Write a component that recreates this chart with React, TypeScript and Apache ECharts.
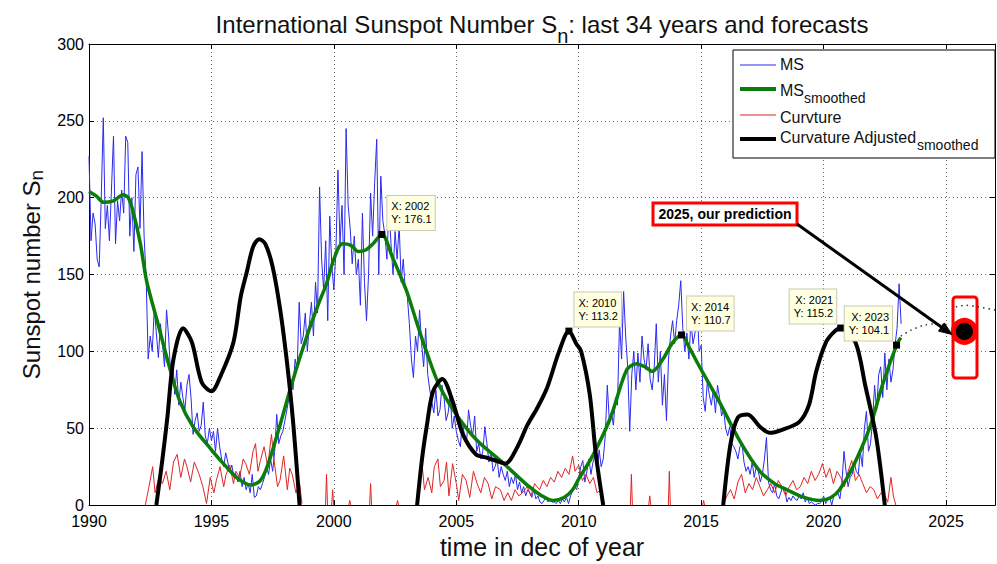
import React, { useEffect, useRef } from "react";
import * as echarts from "echarts";

const FONT = "'Liberation Sans', Arial, Helvetica, sans-serif";

// axis extents
const xMin = 1990;
const xMax = 2027;
const xStep = 5;
const yMin = 0;
const yMax = 300;
const yStep = 50;

// Monthly sunspot number (MS), one row per year starting 1990
const msStartYear = 1990;
const msMonthly: number[][] = [
  [227, 172, 190, 183, 160, 155, 200, 252, 180, 195, 172, 205], // 1990
  [240, 170, 198, 185, 205, 190, 240, 236, 175, 200, 165, 215], // 1991
  [220, 180, 230, 175, 148, 95, 110, 100, 128, 112, 96, 118], // 1992
  [105, 90, 127, 110, 85, 95, 72, 88, 65, 80, 70, 62], // 1993
  [78, 85, 70, 46, 55, 60, 48, 52, 67, 45, 40, 50], // 1994
  [42, 48, 35, 50, 38, 30, 25, 34, 28, 22, 26, 18], // 1995
  [20, 15, 22, 12, 18, 10, 14, 8, 20, 5, 6, 12], // 1996
  [10, 14, 18, 25, 20, 30, 22, 35, 59, 40, 45, 48], // 1997
  [55, 62, 70, 80, 75, 95, 88, 132, 105, 110, 125, 100], // 1998
  [118, 132, 110, 145, 125, 207, 160, 140, 172, 120, 188, 155], // 1999
  [140, 165, 218, 170, 195, 150, 245, 195, 180, 157, 175, 150], // 2000
  [160, 130, 190, 145, 120, 150, 203, 175, 210, 238, 150, 214], // 2001
  [185, 176, 160, 195, 170, 150, 178, 160, 182, 145, 160, 140], // 2002
  [136, 118, 95, 83, 110, 100, 127, 105, 90, 115, 85, 75], // 2003
  [67, 60, 75, 58, 62, 78, 70, 55, 60, 72, 50, 58], // 2004
  [48, 42, 38, 55, 45, 40, 62, 52, 45, 58, 35, 40], // 2005
  [30, 35, 51, 40, 28, 35, 22, 25, 30, 18, 25, 20], // 2006
  [16, 22, 12, 18, 14, 20, 10, 15, 8, 12, 6, 10], // 2007
  [8, 5, 10, 4, 6, 2, 1, 3, 5, 2, 4, 2], // 2008
  [2, 1, 3, 1, 4, 2, 5, 1, 6, 9, 12, 10], // 2009
  [18, 25, 29, 15, 22, 30, 20, 28, 32, 22, 36, 25], // 2010
  [30, 45, 78, 55, 60, 52, 70, 65, 120, 95, 139, 110], // 2011
  [90, 48, 85, 100, 75, 99, 80, 110, 95, 88, 105, 82], // 2012
  [75, 90, 118, 80, 100, 65, 85, 55, 95, 110, 120, 105], // 2013
  [120, 130, 146, 115, 100, 112, 95, 120, 105, 112, 130, 100], // 2014
  [104, 70, 61, 80, 72, 65, 75, 60, 78, 70, 58, 62], // 2015
  [50, 45, 51, 40, 38, 35, 30, 38, 40, 28, 22, 25], // 2016
  [20, 28, 18, 25, 22, 15, 20, 30, 44, 15, 10, 8], // 2017
  [14, 6, 4, 8, 12, 10, 2, 5, 3, 6, 4, 3], // 2018
  [6, 4, 8, 2, 5, 1, 2, 1, 0, 1, 1, 2], // 2019
  [6, 1, 3, 5, 0, 6, 8, 8, 4, 15, 35, 22], // 2020
  [12, 18, 20, 28, 22, 20, 35, 25, 50, 61, 35, 40], // 2021
  [55, 78, 62, 85, 90, 70, 99, 75, 95, 80, 88, 104], // 2022
  [115, 144, 118], // 2023
];

// MS smoothed (green)
const smoothX = [
  1990.0, 1990.3, 1990.6, 1991.0, 1991.4, 1991.6, 1991.8, 1992.1, 1992.35, 1992.8,
  1993.3, 1993.7, 1994.25, 1995.0, 1995.6, 1996.1, 1996.6, 1997.0, 1997.3, 1997.8,
  1998.3, 1998.9, 1999.4, 1999.7, 2000.0, 2000.35, 2000.7, 2001.0, 2001.3, 2001.6,
  2001.96, 2002.4, 2002.8, 2003.0, 2003.4, 2003.8, 2004.3, 2005.0, 2005.85, 2006.8,
  2007.9, 2008.5, 2008.95, 2009.4, 2009.75, 2010.0, 2010.6, 2011.3, 2011.96, 2012.36,
  2012.7, 2013.0, 2013.44, 2013.85, 2014.2, 2014.5, 2014.9, 2015.75, 2016.57, 2017.4,
  2018.0, 2018.5, 2019.2, 2019.84, 2020.3, 2020.65, 2021.2, 2021.9, 2022.4, 2022.98,
  2023.15,
];
const smoothY = [
  204, 201, 197, 198, 202, 200, 191, 170, 146, 119,
  89, 68, 51, 36, 25, 17, 13, 16, 26, 52,
  80, 110, 132, 144, 160, 170, 169, 165, 166, 170,
  176.1, 161, 146, 138, 118, 99, 78, 59, 42, 29,
  13, 6, 3, 5, 10, 17, 33, 57, 88, 92,
  90, 87, 95, 106, 110.7, 103, 91, 67, 42, 22,
  14, 10, 5, 3, 5, 10, 25, 51, 78, 104.1,
  109,
];

// Curvature adjusted smoothed (black), null = gap
const curvAdjX = [
  1992.75, 1993.0, 1993.2, 1993.45, 1993.84, 1994.2, 1994.6, 1995.0, 1995.4, 1995.9,
  1996.2, 1996.45, 1996.7, 1996.95, 1997.2, 1997.5, 1997.8, 1998.07, 1998.33, 1998.6,
  2001.0,
  2003.4, 2003.6, 2003.8, 2004.05, 2004.43, 2004.86, 2005.27, 2005.8, 2006.2, 2006.6,
  2007.0, 2007.5, 2007.9, 2008.3, 2008.7, 2009.2, 2009.6, 2009.9, 2010.1, 2010.45,
  2010.7, 2011.0,
  2013.0,
  2015.9, 2016.2, 2016.5, 2016.9, 2017.4, 2017.8, 2018.3, 2019.0, 2019.4, 2019.7,
  2020.1, 2020.45, 2020.7, 2021.3, 2021.7, 2022.15, 2022.5,
];
const curvAdjY: (number | null)[] = [
  0, 30, 57, 95, 115, 106, 80, 74, 85, 106,
  136, 152, 168, 173, 170, 155, 128, 95, 55, 0,
  null,
  0, 30, 52, 74, 82, 67, 46, 33, 31, 29,
  27, 38, 52, 63, 76, 100, 113.2, 105, 100, 72,
  33, 0,
  null,
  0, 40, 57, 59, 51, 47, 49, 54, 65, 87,
  106, 113, 115.2, 106, 78, 44, 0,
];

// Curvture (red), null = gap
const curvX = [
  1992.3, 1992.45, 1992.6, 1992.7, 1992.85, 1993.0, 1993.15, 1993.3, 1993.45, 1993.6,
  1993.75, 1993.9, 1994.0, 1994.15, 1994.3, 1994.5, 1994.65, 1994.8, 1994.95, 1995.1,
  1995.2, 1995.35, 1995.5, 1995.6, 1995.75, 1995.9, 1996.0, 1996.15, 1996.3, 1996.4,
  1996.55, 1996.7, 1996.8, 1996.9, 1997.0, 1997.15, 1997.3, 1997.45, 1997.55, 1997.7,
  1997.8, 1997.95, 1998.1, 1998.2, 1998.3, 1998.45, 1998.6, 1998.7,
  1999.2,
  1999.66, 1999.7, 1999.74, 1999.8,
  1999.91, 1999.95, 1999.99, 2000.3,
  2000.61, 2000.65, 2000.69, 2001.0,
  2001.46, 2001.5, 2001.54, 2002.0,
  2002.56, 2002.6, 2002.64, 2003.0,
  2003.4, 2003.5, 2003.6, 2003.7, 2003.85, 2004.0, 2004.1, 2004.25, 2004.35, 2004.5,
  2004.6, 2004.7, 2004.85, 2005.0, 2005.1, 2005.25, 2005.4, 2005.55, 2005.7, 2005.85,
  2006.0, 2006.15, 2006.3, 2006.45, 2006.6, 2006.8, 2006.95, 2007.1, 2007.25, 2007.4,
  2007.55, 2007.7, 2007.9, 2008.05, 2008.2, 2008.4, 2008.55, 2008.7, 2008.85, 2009.0,
  2009.15, 2009.3, 2009.45, 2009.6, 2009.75, 2009.85, 2010.0, 2010.15, 2010.3, 2010.45,
  2010.6, 2010.75, 2010.9, 2011.0,
  2011.5,
  2012.11, 2012.15, 2012.19, 2012.5,
  2012.86, 2012.9, 2012.94, 2013.3,
  2013.66, 2013.7, 2013.74, 2014.5,
  2015.06, 2015.1, 2015.14, 2015.5,
  2015.9, 2016.05, 2016.2, 2016.35, 2016.5, 2016.65, 2016.8, 2016.95, 2017.1, 2017.25,
  2017.4, 2017.55, 2017.7, 2017.85, 2018.0, 2018.15, 2018.3, 2018.45, 2018.6, 2018.75,
  2018.9, 2019.05, 2019.2, 2019.35, 2019.5, 2019.65, 2019.8, 2019.95, 2020.1, 2020.25,
  2020.4, 2020.55, 2020.7, 2020.85, 2021.0, 2021.15, 2021.3, 2021.45, 2021.6, 2021.75,
  2021.9, 2022.05, 2022.2, 2022.35, 2022.5, 2022.62, 2022.75, 2022.85, 2022.95,
];
const curvY: (number | null)[] = [
  0, 12, 25, 8, 18, 14, 22, 10, 28, 33,
  18, 30, 25, 15, 28, 20, 12, 1, 18, 8,
  16, 25, 12, 20, 26, 14, 22, 18, 30, 27,
  20, 35, 40, 22, 29, 38, 25, 46, 30, 12,
  16, 32, 10, 24, 20, 8, 14, 1,
  null,
  0, 20, 0, null,
  0, 10, 0, null,
  0, 3, 0, null,
  0, 14, 0, null,
  0, 3, 0, null,
  0, 15, 27, 10, 18, 8, 25, 30, 12, 16,
  28, 6, 27, 14, 3, 20, 16, 5, 22, 14,
  8, 18, 14, 4, 12, 10, 3, 8, 3, 10,
  6, 8, 12, 6, 14, 10, 16, 12, 18, 15,
  22, 18, 24, 20, 32, 22, 26, 16, 20, 14,
  18, 8, 10, 0,
  null,
  0, 20, 0, null,
  0, 6, 0, null,
  0, 22, 0, null,
  0, 3, 0, null,
  0, 6, 10, 4, 15, 20, 8, 14, 10, 18,
  12, 6, 10, 14, 8, 16, 12, 6, 12, 16,
  10, 12, 18, 14, 22, 16, 20, 27, 18, 24,
  14, 22, 18, 12, 22, 29, 16, 20, 14, 8,
  12, 10, 4, 8, 6, 2, 18, 6, 0,
];

// dotted forecast curves
const forecastNearX = [2023.15, 2023.6, 2024.1, 2024.6, 2025.0];
const forecastNearY = [110, 114, 117, 118, 117];
const forecastFarX = [2025.4, 2025.8, 2026.3, 2027.0];
const forecastFarY = [129, 130, 129, 127];

// data tips
const tipX = [2001.96, 2009.6, 2014.2, 2020.7, 2022.98];
const tipY = [176.1, 113.2, 110.7, 115.2, 104.1];
const tipYearLabel = ["2002", "2010", "2014", "2021", "2023"];
const tipSide = ["right", "right", "right", "left", "left"];

// 2025 prediction
const predictionX = [2025.75];
const predictionY = [113];

const pairs = (xs: number[], ys: (number | null)[]) =>
  xs.map((x, i) => [x, ys[i] === null ? "-" : ys[i]]);

export default function App() {
  const ref = useRef<HTMLDivElement>(null);

  useEffect(() => {
    document.body.style.margin = "0";
    if (!ref.current) return;
    const chart = echarts.init(ref.current, undefined, { renderer: "svg" });

    const msData: number[][] = [];
    msMonthly.forEach((row, yi) =>
      row.forEach((v, m) => msData.push([msStartYear + yi + m / 12, v]))
    );

    const axisCommon = {
      axisLine: { show: true, onZero: false, lineStyle: { color: "#000", width: 1 } },
      axisTick: { show: true, inside: true, length: 5, lineStyle: { color: "#000" } },
    };
    const gridDots = { show: true, lineStyle: { color: "#6a6a6a", type: [1, 3], width: 1 } };

    const legendX1 = 740;
    const legendX2 = 776;
    const legendTextX = 780;

    const option: any = {
      animation: false,
      backgroundColor: "#fff",
      title: {
        text: "{a|International Sunspot Number S}{sub|n}{a|: last 34 years and forecasts}",
        left: 542,
        top: 2,
        padding: 0,
        textAlign: "center",
        textStyle: {
          fontFamily: FONT,
          fontWeight: "normal",
          fontSize: 24,
          rich: {
            a: { fontFamily: FONT, fontSize: 24, color: "#111", lineHeight: 44 },
            sub: { fontFamily: FONT, fontSize: 20, color: "#111", lineHeight: 20, verticalAlign: "bottom" },
          },
        },
      },
      grid: { left: 89, right: 2, top: 44, bottom: 52 },
      xAxis: [
        {
          type: "value",
          min: xMin,
          max: xMax,
          interval: xStep,
          position: "bottom",
          name: "time in dec of year",
          nameLocation: "middle",
          nameGap: 19,
          nameTextStyle: { fontFamily: FONT, fontSize: 25, color: "#111" },
          ...axisCommon,
          axisLabel: {
            color: "#000",
            fontFamily: FONT,
            fontSize: 16,
            lineHeight: 16,
            margin: 8,
            showMaxLabel: false,
            formatter: (v: number) => String(v),
          },
          splitLine: gridDots,
        },
        {
          type: "value",
          min: xMin,
          max: xMax,
          interval: xStep,
          position: "top",
          ...axisCommon,
          axisLabel: { show: false },
          splitLine: { show: false },
        },
      ],
      yAxis: [
        {
          type: "value",
          min: yMin,
          max: yMax,
          interval: yStep,
          position: "left",
          name: "{a|Sunspot number S}{sub|n}",
          nameLocation: "middle",
          nameGap: 43,
          nameTextStyle: {
            fontFamily: FONT,
            fontSize: 24,
            color: "#111",
            rich: {
              a: { fontFamily: FONT, fontSize: 24, color: "#111", lineHeight: 30 },
              sub: { fontFamily: FONT, fontSize: 19, color: "#111", lineHeight: 16, verticalAlign: "bottom" },
            },
          },
          ...axisCommon,
          axisLabel: { color: "#000", fontFamily: FONT, fontSize: 16, lineHeight: 14, margin: 5 },
          splitLine: gridDots,
        },
        {
          type: "value",
          min: yMin,
          max: yMax,
          interval: yStep,
          position: "right",
          ...axisCommon,
          axisLabel: { show: false },
          splitLine: { show: false },
        },
      ],
      legend: { show: false },
      series: [
        {
          name: "MS",
          type: "line",
          data: msData,
          symbol: "none",
          lineStyle: { color: "#2a2aee", width: 1 },
          z: 2,
          silent: true,
        },
        {
          name: "Curvture",
          type: "line",
          data: pairs(curvX, curvY),
          symbol: "none",
          connectNulls: false,
          lineStyle: { color: "#e02525", width: 1 },
          z: 3,
          silent: true,
        },
        {
          name: "MS smoothed",
          type: "line",
          data: pairs(smoothX, smoothY),
          symbol: "none",
          smooth: 0.3,
          lineStyle: { color: "#0a7d0a", width: 3.5 },
          z: 4,
          silent: true,
        },
        {
          name: "Curvature Adjusted smoothed",
          type: "line",
          data: pairs(curvAdjX, curvAdjY),
          symbol: "none",
          smooth: 0.3,
          connectNulls: false,
          lineStyle: { color: "#000", width: 4 },
          z: 5,
          silent: true,
        },
        {
          name: "forecast near",
          type: "line",
          data: pairs(forecastNearX, forecastNearY),
          symbol: "none",
          smooth: 0.3,
          lineStyle: { color: "#333", width: 1.5, type: [1.5, 4] },
          z: 5,
          silent: true,
        },
        {
          name: "forecast far",
          type: "line",
          data: pairs(forecastFarX, forecastFarY),
          symbol: "none",
          smooth: 0.3,
          lineStyle: { color: "#333", width: 1.5, type: [1.5, 4] },
          z: 5,
          silent: true,
        },
        {
          name: "prediction",
          type: "scatter",
          data: pairs(predictionX, predictionY),
          symbol: "circle",
          symbolSize: 22,
          itemStyle: { color: "#000", borderColor: "#ff0000", borderWidth: 5, opacity: 1 },
          z: 9,
          silent: true,
        },
        {
          name: "datatips",
          type: "scatter",
          symbol: "rect",
          symbolSize: 7,
          itemStyle: { color: "#000", opacity: 1 },
          z: 10,
          silent: true,
          data: tipX.map((x, i) => ({
            value: [x, tipY[i]],
            label: {
              position: tipSide[i] === "right" ? [9, -1] : [-1, -1],
              align: tipSide[i] === "right" ? "left" : "right",
            },
          })),
          label: {
            show: true,
            formatter: (p: any) =>
              `X: ${tipYearLabel[p.dataIndex]}\nY: ${tipY[p.dataIndex].toFixed(1)}`,
            verticalAlign: "bottom",
            backgroundColor: "#ffffe1",
            borderColor: "#c9c9b4",
            borderWidth: 1,
            padding: [4, 3, 4, 4],
            fontFamily: FONT,
            fontSize: 11,
            lineHeight: 13,
            color: "#000",
          },
        },
      ],
      graphic: [
        // legend
        {
          type: "rect",
          z: 100,
          shape: { x: 733, y: 50, width: 262, height: 108 },
          style: { fill: "#fff", stroke: "#000", lineWidth: 1 },
        },
        {
          type: "line",
          z: 101,
          shape: { x1: legendX1, y1: 65, x2: legendX2, y2: 65 },
          style: { stroke: "#2a2aee", lineWidth: 1 },
        },
        {
          type: "text",
          z: 101,
          style: {
            x: legendTextX, y: 64, text: "MS", fontFamily: FONT, fontSize: 16,
            fill: "#111", verticalAlign: "middle", align: "left",
          },
        },
        {
          type: "line",
          z: 101,
          shape: { x1: legendX1, y1: 89, x2: legendX2, y2: 89 },
          style: { stroke: "#0a7d0a", lineWidth: 4 },
        },
        {
          type: "text",
          z: 101,
          style: {
            x: legendTextX, y: 90, text: "{a|MS}{sub|smoothed}", verticalAlign: "middle", align: "left",
            rich: {
              a: { fontFamily: FONT, fontSize: 16, fill: "#111", lineHeight: 30 },
              sub: { fontFamily: FONT, fontSize: 14, fill: "#111", lineHeight: 12, verticalAlign: "bottom" },
            },
          },
        },
        {
          type: "line",
          z: 101,
          shape: { x1: legendX1, y1: 115, x2: legendX2, y2: 115 },
          style: { stroke: "#e02525", lineWidth: 1 },
        },
        {
          type: "text",
          z: 101,
          style: {
            x: legendTextX, y: 117, text: "Curvture", fontFamily: FONT, fontSize: 16,
            fill: "#111", verticalAlign: "middle", align: "left",
          },
        },
        {
          type: "line",
          z: 101,
          shape: { x1: legendX1, y1: 139, x2: legendX2, y2: 139 },
          style: { stroke: "#000", lineWidth: 4 },
        },
        {
          type: "text",
          z: 101,
          style: {
            x: legendTextX, y: 137, text: "{a|Curvature Adjusted}{sub|smoothed}", verticalAlign: "middle", align: "left",
            rich: {
              a: { fontFamily: FONT, fontSize: 16, fill: "#111", lineHeight: 30 },
              sub: { fontFamily: FONT, fontSize: 14, fill: "#111", lineHeight: 12, verticalAlign: "bottom" },
            },
          },
        },
        // prediction callout
        {
          type: "rect",
          z: 50,
          shape: { x: 653, y: 203, width: 144, height: 22 },
          style: { fill: "#fff", stroke: "#ff0000", lineWidth: 3 },
        },
        {
          type: "text",
          z: 51,
          style: {
            x: 725, y: 214, text: "2025, our prediction", fontFamily: FONT, fontSize: 14,
            fontWeight: "bold", fill: "#000", align: "center", verticalAlign: "middle",
          },
        },
        {
          type: "line",
          z: 50,
          shape: { x1: 797, y1: 224, x2: 942, y2: 327.5 },
          style: { stroke: "#000", lineWidth: 3 },
        },
        {
          type: "polygon",
          z: 50,
          shape: { points: [[952, 334.5], [938.5, 331.1], [944.3, 322.9]] },
          style: { fill: "#000", stroke: "#000", lineWidth: 1 },
        },
        {
          type: "rect",
          z: 1,
          shape: { x: 953, y: 297, width: 24, height: 81, r: 3 },
          style: { fill: "none", stroke: "#ff0000", lineWidth: 3 },
        },
      ],
    };

    chart.setOption(option);
    return () => chart.dispose();
  }, []);

  return <div ref={ref} style={{ width: 997, height: 564 }} />;
}
